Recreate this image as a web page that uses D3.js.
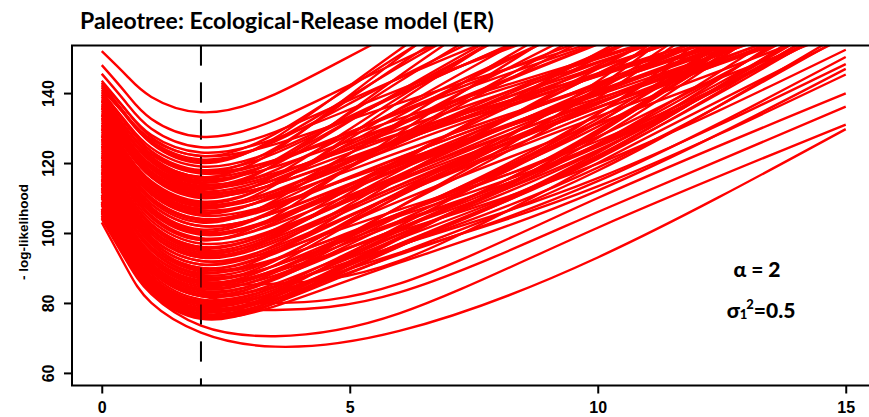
<!DOCTYPE html>
<html><head><meta charset="utf-8">
<script src="https://cdn.jsdelivr.net/npm/d3@7"></script>
<style>body{margin:0;background:#fff}svg{display:block}</style>
</head><body><svg id="c" width="869" height="417"></svg>
<script>
const title = "Paleotree: Ecological-Release model (ER)";
const yLabel = "- log-likelihood";
const xTicks = [0, 5, 10, 15];
const yTicks = [60, 80, 100, 120, 140];
const markerX = 2;
const xGrid = [0, 0.5, 1, 2, 3.5, 6, 10, 15];
const curves = [
[152,145,138.9,134.5,139.7,157.9,185.2,217.7],
[148,139.8,132.6,127.5,132.3,149.1,174.3,204.3],
[145.5,137.1,129.8,124.5,128.9,144.3,167.4,194.9],
[143,135,128,123,127,141,162,187],
[142,133.6,126.3,121,126.2,144.4,171.7,204.2],
[141,133.4,126.8,122,125.4,137.1,154.8,175.8],
[140,131.6,124.3,119,123.6,139.9,164.2,193.2],
[139.5,130.9,123.4,118,122.8,139.6,164.8,194.8],
[138.5,129.9,122.4,117,120.8,134.3,154.4,178.4],
[138,128.8,120.8,115,120.6,140.2,169.6,204.6],
[137,128.6,121.3,116,120.2,134.7,156.6,182.6],
[136,127.2,119.5,114,117.2,128.4,145.2,165.2],
[135,126.2,118.5,113,118,135.3,161.4,192.4],
[134.5,125.5,117.6,112,116.3,131.4,154.1,181.1],
[134,124.8,116.8,111,115.4,130.8,153.9,181.4],
[133,124,116.1,110.5,114.1,126.7,145.6,168.1],
[132,122.8,114.8,109,114.4,133.5,162,196],
[131.5,122.1,113.9,108,112.2,126.7,148.6,174.6],
[131,121.8,113.8,108,112,126,147,172],
[130,120.4,112,106,110.6,126.9,151.2,180.2],
[129,119.4,111,105,108.4,120.5,138.5,160],
[128.5,118.7,110.1,104,107.9,121.6,142.2,166.7],
[128,118.4,110,104,108.8,125.6,150.8,180.8],
[127,117,108.3,102,105.8,119.3,139.4,163.4],
[126.5,116.3,107.4,101,106.8,126.9,157.2,193.2],
[126,115.6,106.5,100,104.4,119.8,142.9,170.4],
[125,115,106.3,100,104.2,118.7,140.6,166.6],
[124.5,114.1,105,98.5,102.5,116.5,137.5,162.5],
[124,113.6,104.5,98,103.1,121,147.9,179.9],
[123,112.6,103.5,97,101,115,136,161],
[122.5,111.5,101.9,95,99.8,116.6,141.8,171.8],
[122,111.6,102.5,96,100.5,116.2,139.7,167.7],
[121,110.4,101.1,94.5,98.7,113.6,135.8,162.3],
[120.5,109.9,100.6,94,99.3,117.8,145.5,178.5],
[120,109.2,99.8,93,97.4,112.8,135.9,163.4],
[119,108.2,98.8,92,96.2,111.1,133.3,159.8],
[118.5,107.5,97.9,91,95.5,111.2,134.7,162.7],
[118,106.8,97,90,94.2,109.1,131.3,157.8],
[117,106.2,96.8,90,94.8,111.6,136.8,166.8],
[116.5,105.5,95.9,89,92.3,105.5,127.5,164.6],
[116,104.8,95,88,92.5,110.5,140.5,191.1],
[115,103.8,94,87,90.7,105.6,130.4,172.3],
[114.5,103.1,93.1,86,90.9,110.6,143.4,198.8],
[114,102.8,93,86,89.4,102.8,125.2,163],
[113,101.8,92,85,89.1,105.4,132.6,178.5],
[112.5,101.1,91.1,84,88.7,107.4,138.6,191.3],
[112,100.6,90.6,83.5,87.1,101.5,125.5,166],
[111,99.6,89.6,82.5,86.7,103.5,131.5,178.8],
[110.5,99.1,89.1,82,87.1,107.5,141.5,198.9],
[110,98.4,88.3,81,84.5,98.4,121.6,160.8],
[109,97.4,87.3,80,83.9,99.5,125.5,169.4],
[108.5,96.7,86.4,79,83.3,100.6,129.4,178],
[108,96.2,85.9,78.5,82.2,96.8,121.2,162.4],
[107,95.4,85.3,78,82.8,102,134,188],
[106.5,94.7,84.4,77,80.8,96.2,121.8,165],
[106,94.2,83.9,76.5,80.9,98.7,128.3,178.3],
[105.5,93.7,83.4,76,80,96.1,122.9,168.1],
[105,93.2,82.9,75.5,80.1,98.3,128.7,180],
[143.5,134.9,127.4,122,128.4,150.8,184.4,224.4],
[142.5,133.5,125.6,120,127.2,152.4,190.2,235.2],
[141.5,133.1,125.8,120.5,126.5,147.5,179,216.5],
[140.5,131.3,123.3,117.5,124.3,148.1,183.8,226.3],
[139,129.8,121.8,116,123.6,150.2,190.1,237.6],
[137.5,128.3,120.3,114.5,120.9,143.3,176.9,216.9],
[136.5,127.3,119.3,113.5,119.5,140.5,172,209.5],
[135.5,126.3,118.3,112.5,119.7,144.9,182.7,227.7],
[133.5,124.1,115.9,110,116.4,138.8,172.4,212.4],
[132.5,122.9,114.5,108.5,114.5,135.5,167,204.5],
[130.5,121.1,112.9,107,113.8,137.6,173.3,215.8],
[129.5,119.9,111.5,105.5,111.1,130.7,160.1,195.1],
[127.5,117.7,109.1,103,109.4,131.8,165.4,205.4],
[125.5,115.5,106.8,100.5,106.5,127.5,159,196.5],
[123.5,113.3,104.4,98,104.8,128.6,164.3,206.8],
[121.5,111.1,102,95.5,101.1,120.7,150.1,185.1],
[119.5,108.9,99.6,93,99,120,151.5,189],
[117.5,106.9,97.6,91,96.6,116.2,145.6,180.6],
[115.5,104.7,95.3,88.5,94.5,115.5,147,184.5],
[113.5,102.7,93.3,86.5,92.1,111.7,141.1,176.1],
[113.8,103.3,94.1,87.5,90.7,103.4,124.6,160.4],
[112.8,101.9,92.3,85.5,89.5,105.3,131.7,176.3],
[111.8,100.9,91.3,84.5,87.9,101.3,123.7,161.5],
[110.8,99.7,90,83,87.4,104.9,134.1,183.4],
[109.8,98.7,89,82,85.5,99.7,123.3,163.1],
[108.8,97.5,87.6,80.5,84.6,101.2,128.8,175.4],
[107.8,96.5,86.6,79.5,82.9,96.3,118.7,156.5],
[106.8,95.3,85.2,78,81.8,96.9,122.1,164.6],
[105.8,94.5,84.6,77.5,81.8,98.8,127.2,175.1],
[104.8,93.5,83.6,76.5,80,94.2,117.8,157.6],
[115.3,105,96,89.5,92.6,104.8,125.2,159.6],
[117.3,107.2,98.3,92,94.9,106.7,126.3,159.4],
[136.5,128.1,120.8,115.5,119,131.3,149.8,171.8],
[133.8,124.9,117.1,111.5,115.2,128.1,147.4,170.4],
[130.8,121.5,113.3,107.5,111.3,124.8,144.9,168.9],
[127.8,118.1,109.6,103.5,107.5,121.5,142.5,167.5],
[124.8,114.7,105.8,99.5,103.7,118.2,140.1,166.1],
[121.8,111.5,102.5,96,100.3,115.4,138.1,165.1],
[119.3,109,99.9,93.5,98,113.7,137.2,165.2],
[137.8,129.7,122.6,117.5,120.9,132.6,150.3,171.3],
[132.8,123.9,116.1,110.5,114,126.3,144.8,166.8],
[129.8,120.5,112.3,106.5,110.2,123.1,142.4,165.4],
[126.8,116.9,108.2,102,105.9,119.6,140.2,164.7],
[135.8,126.7,118.7,113,116.7,129.6,148.9,171.9],
[114.2,103.1,93.1,86,88.9,100.5,119.8,152.4],
[106.3,95,85.1,78,81.2,93.8,114.8,150.3],
[110.3,99,89.1,82,84.9,96.5,115.7,148.3],
[104.3,92.7,83.1,76,79.1,91.5,112.1,146.9],
[108.3,97,87.1,80,82.9,94.3,113.3,145.3],
[111,100,92,86,85.5,92,120,156],
[109,98,89.5,82,80,85.5,110,139.9],
[107,96,87,79.5,78,83,106,136.1],
[104,92,82.5,73.5,70.5,77,101.5,131],
[103,90,80,71.5,67.5,72,93,129.7]
];

const svg = d3.select("#c");
const x = d3.scaleLinear().domain([-0.6, 15.6]).range([72, 875.5]);
const y = d3.scaleLinear().domain([56.4, 153.6]).range([385.5, 45.5]);
const tickFont = "'Liberation Sans', Arial, sans-serif";

svg.append("defs").append("clipPath").attr("id", "plotclip")
  .append("rect").attr("x", x(-0.6)).attr("y", y(153.6))
  .attr("width", x(15.6) - x(-0.6)).attr("height", y(56.4) - y(153.6));

// title
svg.append("text").attr("x", 80).attr("y", 29)
  .attr("font-family", "Lato, 'Open Sans', sans-serif").attr("font-weight", 700)
  .attr("font-size", 23).attr("fill", "#000").text(title);

// vertical dashed marker
function marker(width, opacity) {
  svg.append("line").attr("x1", x(markerX)).attr("x2", x(markerX))
    .attr("y1", y(153.6)).attr("y2", y(56.4))
    .attr("stroke", "#000").attr("stroke-width", width).attr("stroke-opacity", opacity)
    .attr("stroke-dasharray", "20,17");
}
marker(2, 1);

// curves
const line = d3.line().x((d, i) => x(xGrid[i])).y(d => y(d)).curve(d3.curveNatural);
svg.append("g").attr("clip-path", "url(#plotclip)")
  .selectAll("path").data(curves).join("path")
  .attr("d", line).attr("fill", "none").attr("stroke", "#ff0000")
  .attr("stroke-width", 2.4).attr("stroke-linejoin", "round");

// marker shows through the red mass
marker(1.3, 0.85);

// box
svg.append("rect").attr("x", x(-0.6)).attr("y", y(153.6))
  .attr("width", x(15.6) - x(-0.6)).attr("height", y(56.4) - y(153.6))
  .attr("fill", "none").attr("stroke", "#000").attr("stroke-width", 2);

// x axis
const gx = svg.append("g").attr("transform", `translate(0,${y(56.4)})`)
  .call(d3.axisBottom(x).tickValues(xTicks).tickSize(8).tickPadding(8).tickFormat(d3.format("d")));
gx.select(".domain").remove();
gx.selectAll("line").attr("stroke", "#000").attr("stroke-width", 2);
gx.selectAll("text").attr("font-family", tickFont).attr("font-weight", "bold")
  .attr("font-size", 16).attr("fill", "#000");

// y axis
const gy = svg.append("g").attr("transform", `translate(${x(-0.6)},0)`)
  .call(d3.axisLeft(y).tickValues(yTicks).tickSize(8).tickFormat(d3.format("d")));
gy.select(".domain").remove();
gy.selectAll("line").attr("stroke", "#000").attr("stroke-width", 2);
gy.selectAll("text").attr("font-family", tickFont).attr("font-weight", "bold")
  .attr("font-size", 16).attr("fill", "#000")
  .attr("transform", "rotate(-90)").attr("x", 0).attr("dx", 0).attr("y", -18)
  .attr("dy", 0).attr("text-anchor", "middle");

// y label
svg.append("text").attr("transform", "translate(28,232) rotate(-90)")
  .attr("text-anchor", "middle").attr("font-family", tickFont)
  .attr("font-weight", "bold").attr("font-size", 13.5).attr("fill", "#000").text(yLabel);

// annotations
const annFont = "Lato, 'Open Sans', sans-serif";
svg.append("text").attr("x", 757).attr("y", 277).attr("text-anchor", "middle")
  .attr("font-family", annFont).attr("font-weight", 900).attr("font-size", 21)
  .text("\u03B1 = 2");
const t2 = svg.append("text").attr("x", 761).attr("y", 318).attr("text-anchor", "middle")
  .attr("font-family", annFont).attr("font-weight", 900).attr("font-size", 21);
t2.append("tspan").text("\u03C3");
t2.append("tspan").attr("font-size", 13).attr("dy", 1).text("1");
t2.append("tspan").attr("font-size", 13).attr("dy", -10).attr("dx", -1).text("2");
t2.append("tspan").attr("dy", 9).text("=0.5");
</script></body></html>
